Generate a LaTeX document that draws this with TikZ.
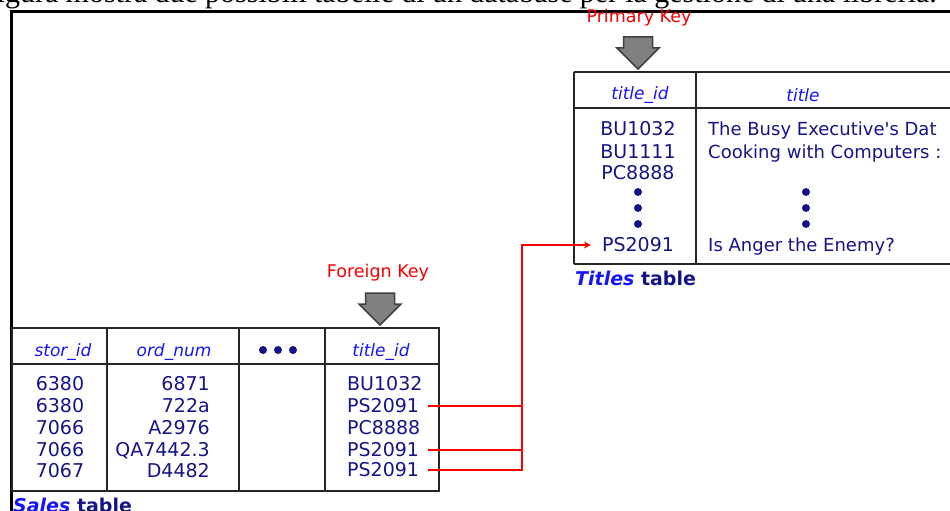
\documentclass[tikz,border=0pt]{standalone}
\usepackage{fontspec}
\newfontfamily\tabfont{DejaVu Sans}
\newfontfamily\capfont{Liberation Serif}
\usetikzlibrary{arrows.meta,positioning,calc}
\definecolor{navy}{RGB}{20,20,135}
\definecolor{hdrblue}{RGB}{20,20,250}
\definecolor{keyred}{RGB}{250,0,0}
\tikzset{
  datacell/.style={font=\tabfont\fontsize{19}{21}\selectfont, text=navy, inner sep=0pt, text height=13pt, text depth=0pt},
  idcell/.style={datacell, inner xsep=9pt},
  titlecell/.style={datacell, font=\tabfont\fontsize{18}{20}\selectfont, anchor=west},
  hdrcell/.style={font=\tabfont\itshape\fontsize{17}{19}\selectfont, text=hdrblue, inner sep=0pt},
  keylabel/.style={font=\tabfont\fontsize{17.5}{19}\selectfont, text=keyred, inner sep=0pt},
  tablelabel/.style={font=\tabfont\bfseries\fontsize{19}{21}\selectfont, text=navy, inner sep=0pt, anchor=base west},
  dotn/.style={circle, fill=navy, minimum size=8pt, inner sep=0pt},
  gridline/.style={line width=1.6pt, draw=black!85},
  fkline/.style={draw=keyred, line width=1.6pt},
  keyarrow/.pic={
    \draw[fill=black!50, draw=black!75, line width=1.5pt, line join=miter]
      (0,0) -- (-21,-21) -- (-14.5,-21) -- (-14.5,-32) -- (14.5,-32)
      -- (14.5,-21) -- (21,-21) -- cycle;
  },
}

\begin{document}
\begin{tikzpicture}[x=1pt, y=-1pt]
  \useasboundingbox (0,0) rectangle (950,511);
  \clip (0,0) rectangle (950,511);

  % caption line, justified and cut at the top
  \node[anchor=base east, inner sep=0pt, font=\capfont\fontsize{30}{32}\selectfont] (cap) at (937,2.5)
    {\makebox[950pt][s]{figura mostra due possibili tabelle di un database per la gestione di una libreria.}};
  \draw[line width=3pt] (11.5,515) -- (11.5,11.5) -- (955,11.5);

  % Titles table
  \draw[gridline] (574,72) -- (960,72);
  \draw[gridline] (574,108) -- (960,108);
  \draw[gridline] (574,264) -- (960,264);
  \draw[gridline] (574,72) -- (574,264);
  \draw[gridline] (696,72) -- (696,264);

  \node[keylabel] (pk) at (639,18) {Primary Key};
  \pic at (638,69) {keyarrow};

  \node[hdrcell] (th1) at (640,95) {title\_id};
  \node[hdrcell] (th2) at (803,95) {title};

  \node[datacell] (t1) at (638,129) {BU1032};
  \node[datacell] (t2) at (638,152) {BU1111};
  \node[datacell] (t3) at (638,173) {PC8888};
  \node[dotn] (td1) at (638,192) {};
  \node[dotn] (td2) at (638,208) {};
  \node[dotn] (td3) at (638,224) {};
  \node[datacell, inner xsep=11pt] (t4) at (638,245) {PS2091};

  \node[titlecell] (n1) at (708,129) {The Busy Executive's Dat};
  \node[titlecell] (n2) at (708,152) {Cooking with Computers :};
  \node[dotn] (nd1) at (806,192) {};
  \node[dotn] (nd2) at (806,208) {};
  \node[dotn] (nd3) at (806,224) {};
  \node[titlecell] (n4) at (708,245) {Is Anger the Enemy?};

  \node[tablelabel] (tlab) at (575,285) {\textcolor{hdrblue}{\itshape Titles} table};

  % Sales table
  \draw[gridline] (12,328) rectangle (439,491);
  \draw[gridline] (12,364) -- (439,364);
  \foreach \cx in {107,239,325}
    \draw[gridline] (\cx,328) -- (\cx,491);

  \node[keylabel] (fk) at (378,273) {Foreign Key};
  \pic at (380,325) {keyarrow};

  \node[hdrcell] (sh1) at (63,352) {stor\_id};
  \node[hdrcell] (sh2) at (174,352) {ord\_num};
  \node[dotn] (shd1) at (263,350) {};
  \node[dotn] (shd2) at (278,350) {};
  \node[dotn] (shd3) at (293,350) {};
  \node[hdrcell] (sh4) at (381,352) {title\_id};

  \node[datacell] (a1) at (60,384) {6380};
  \node[datacell] (a2) at (60,406) {6380};
  \node[datacell] (a3) at (60,428) {7066};
  \node[datacell] (a4) at (60,450) {7066};
  \node[datacell] (a5) at (60,471) {7067};

  \node[datacell, anchor=east] (o1) at (210,384) {6871};
  \node[datacell, anchor=east] (o2) at (210,406) {722a};
  \node[datacell, anchor=east] (o3) at (210,428) {A2976};
  \node[datacell, anchor=east] (o4) at (210,450) {QA7442.3};
  \node[datacell, anchor=east] (o5) at (210,471) {D4482};

  \node[idcell, anchor=west] (s1) at (338,384) {BU1032};
  \node[idcell, anchor=west] (s2) at (338,406) {PS2091};
  \node[idcell, anchor=west] (s3) at (338,428) {PC8888};
  \node[idcell, anchor=west] (s4) at (338,450) {PS2091};
  \node[idcell, anchor=west] (s5) at (338,470) {PS2091};

  \node[tablelabel] (slab) at (13,512) {\textcolor{hdrblue}{\itshape Sales} table};

  % foreign key links
  \coordinate (bus) at (522,245);
  \draw[fkline] (s2.east) -- (s2.east -| bus);
  \draw[fkline] (s4.east) -- (s4.east -| bus);
  \draw[fkline, -{Stealth[length=7pt,width=7pt]}] (s5.east) -| (bus) -- (t4.west);
\end{tikzpicture}
\end{document}
